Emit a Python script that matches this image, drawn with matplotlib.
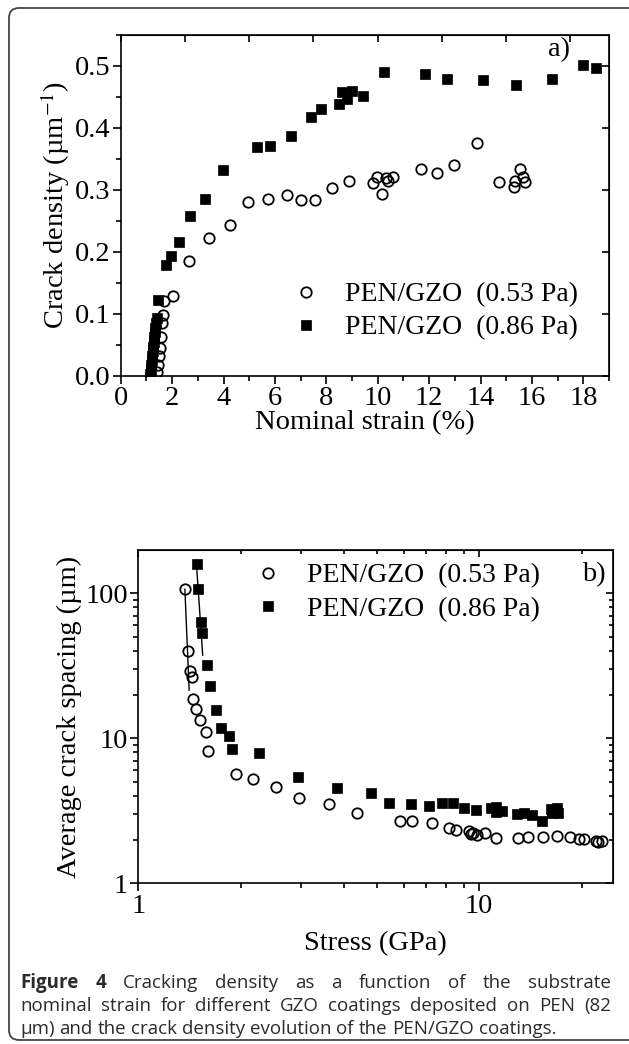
import matplotlib
matplotlib.use('Agg')
import matplotlib.pyplot as plt
from matplotlib.patches import FancyBboxPatch
from matplotlib.transforms import IdentityTransform
from matplotlib.ticker import MultipleLocator, LogLocator, NullFormatter, FixedLocator, FixedFormatter

W, H, DPI = 629, 1044, 100

# ---------------- Panel a data ----------------
strain_053 = [1.42, 1.46, 1.50, 1.53, 1.55, 1.60, 1.65, 1.69, 2.04, 2.65, 3.44, 4.27, 4.96,
              5.72, 6.46, 7.03, 7.57, 8.22, 8.90, 9.81, 9.97, 10.15, 10.34, 10.41, 10.59,
              11.70, 12.30, 12.97, 13.86, 14.72, 15.30, 15.35, 15.53, 15.64, 15.74]
density_053 = [0.006, 0.017, 0.031, 0.044, 0.063, 0.085, 0.098, 0.120, 0.128, 0.185, 0.222,
               0.243, 0.280, 0.285, 0.291, 0.283, 0.284, 0.303, 0.315, 0.311, 0.321, 0.294,
               0.319, 0.315, 0.320, 0.333, 0.328, 0.340, 0.375, 0.313, 0.304, 0.315, 0.334,
               0.320, 0.312]
strain_086 = [1.15, 1.17, 1.19, 1.21, 1.23, 1.25, 1.27, 1.29, 1.31, 1.33, 1.35, 1.37, 1.40,
              1.44, 1.75, 1.94, 2.28, 2.69, 3.27, 3.99, 5.32, 5.79, 6.61, 7.40, 7.79, 8.48,
              8.61, 8.80, 8.99, 9.42, 10.24, 11.84, 12.68, 14.08, 15.39, 16.78, 17.97, 18.51]
density_086 = [0.003, 0.010, 0.017, 0.025, 0.032, 0.040, 0.047, 0.055, 0.062, 0.070, 0.077,
               0.085, 0.093, 0.122, 0.178, 0.193, 0.216, 0.258, 0.285, 0.332, 0.369, 0.371,
               0.387, 0.417, 0.431, 0.438, 0.458, 0.446, 0.460, 0.452, 0.490, 0.487, 0.479,
               0.478, 0.470, 0.479, 0.502, 0.497]

# ---------------- Panel b data ----------------
stress_053 = [1.37, 1.396, 1.42, 1.437, 1.45, 1.473, 1.52, 1.583, 1.60, 1.93, 2.17, 2.53, 2.97,
              3.62, 4.39, 5.85, 6.36, 7.28, 8.15, 8.58, 9.31, 9.44, 9.6, 9.87, 10.4, 11.24,
              13.0, 13.9, 15.4, 16.9, 18.5, 19.6, 20.3, 22.0, 22.3, 23.0]
spacing_053 = [106.6, 40, 29.1, 26.6, 18.8, 15.9, 13.3, 11.0, 8.2, 5.67, 5.21, 4.63, 3.89,
               3.52, 3.04, 2.70, 2.70, 2.59, 2.39, 2.33, 2.31, 2.18, 2.22, 2.15, 2.21, 2.04,
               2.06, 2.09, 2.09, 2.13, 2.08, 2.01, 2.03, 1.96, 1.93, 1.97]
stress_086 = [1.489, 1.50, 1.524, 1.541, 1.594, 1.626, 1.686, 1.748, 1.84, 1.88, 2.26, 2.94,
              3.82, 4.80, 5.45, 6.31, 7.12, 7.76, 8.36, 9.04, 9.78, 10.87, 11.19, 11.19, 11.63,
              12.88, 13.52, 14.3, 15.24, 16.3, 16.4, 16.9, 17.05]
spacing_086 = [159, 106.6, 63.7, 53, 31.9, 22.8, 15.8, 11.7, 10.3, 8.4, 7.96, 5.43, 4.52, 4.18,
               3.60, 3.51, 3.43, 3.56, 3.56, 3.32, 3.19, 3.29, 3.38, 3.12, 3.15, 3.0, 3.04,
               2.94, 2.69, 3.24, 3.07, 3.32, 3.07]
fit_053_x = [1.37, 1.41]
fit_053_y = [106.6, 21.5]
fit_086_x = [1.483, 1.545]
fit_086_y = [152, 37.5]

label_053 = 'PEN/GZO  (0.53 Pa)'
label_086 = 'PEN/GZO  (0.86 Pa)'
xticks_a = [0, 2, 4, 6, 8, 10, 12, 14, 16, 18]
yticks_a = [0.0, 0.1, 0.2, 0.3, 0.4, 0.5]

caption_lines = [
    [("Figure", 'bold'), ("4", 'bold'), ("Cracking", 'normal'), ("density", 'normal'), ("as", 'normal'),
     ("a", 'normal'), ("function", 'normal'), ("of", 'normal'), ("the", 'normal'), ("substrate", 'normal')],
    [(w, 'normal') for w in "nominal strain for different GZO coatings deposited on PEN (82".split()],
    [(w, 'normal') for w in "µm) and the crack density evolution of the PEN/GZO coatings.".split()],
]

plt.rcParams['font.family'] = ['Liberation Serif', 'DejaVu Serif']
plt.rcParams['mathtext.fontset'] = 'stix'

fig = plt.figure(figsize=(W / DPI, H / DPI), dpi=DPI)
FS = 20.5
LW = 1.2

def px_ax(left, right, top, bottom):
    return fig.add_axes([left / W, 1 - bottom / H, (right - left) / W, (bottom - top) / H])

def style_axes(ax):
    for s in ax.spines.values():
        s.set_linewidth(LW)
    ax.tick_params(which='both', direction='out', width=LW, labelsize=FS, pad=1.5,
                   top=False, right=False)
    ax.tick_params(which='major', length=6)
    ax.tick_params(which='minor', length=3.5)

def inner_ticks(ax):
    for sec in (ax.secondary_xaxis('top'), ax.secondary_yaxis('right')):
        sec.tick_params(which='both', direction='in', width=LW, labelleft=False, labelright=False,
                        labeltop=False, labelbottom=False)
        sec.tick_params(which='major', length=5)
        sec.tick_params(which='minor', length=3)

mk_open = dict(linestyle='none', marker='o', ms=7.5, mfc='none', mec='black', mew=1.3)
mk_sq = dict(linestyle='none', marker='s', ms=7.5, mfc='black', mec='black', mew=0.5)

# ---------------- Panel a ----------------
ax1 = px_ax(120.7, 609, 35, 375.7)
ax1.plot(strain_053, density_053, label=label_053, **mk_open)
ax1.plot(strain_086, density_086, label=label_086, **mk_sq)
ax1.set_xlim(0, 19)
ax1.set_ylim(0, 0.55)
ax1.xaxis.set_major_locator(FixedLocator(xticks_a))
ax1.yaxis.set_major_locator(FixedLocator(yticks_a))
ax1.xaxis.set_minor_locator(MultipleLocator(1))
ax1.yaxis.set_minor_locator(MultipleLocator(0.05))
ax1.yaxis.set_major_formatter(FixedFormatter([f'{v:.1f}' for v in yticks_a]))
style_axes(ax1)
inner_ticks(ax1)
ax1.set_xlabel('Nominal strain (%)', fontsize=FS, labelpad=-1)
ax1.set_ylabel('Crack density (µm$^{-1}$)', fontsize=FS, labelpad=2)
ax1.legend(loc='upper left', bbox_to_anchor=(0.356, 0.2755), frameon=False, fontsize=FS - 0.5,
           handlelength=0.8, handletextpad=1.0, labelspacing=0.27, borderpad=0, borderaxespad=0)
ax1.text(0.92, 0.995, 'a)', transform=ax1.transAxes, fontsize=FS, ha='right', va='top')

# ---------------- Panel b ----------------
ax2 = px_ax(138.3, 613, 550, 883.3)
ax2.set_xscale('log')
ax2.set_yscale('log')
ax2.plot(fit_053_x, fit_053_y, color='black', lw=1.0)
ax2.plot(fit_086_x, fit_086_y, color='black', lw=1.0)
ax2.plot(stress_053, spacing_053, label=label_053, **mk_open)
ax2.plot(stress_086, spacing_086, label=label_086, **mk_sq)
ax2.set_xlim(1, 24.7)
ax2.set_ylim(1, 199)
ax2.xaxis.set_major_locator(FixedLocator([1, 10]))
ax2.xaxis.set_major_formatter(FixedFormatter(['1', '10']))
ax2.yaxis.set_major_locator(FixedLocator([1, 10, 100]))
ax2.yaxis.set_major_formatter(FixedFormatter(['1', '10', '100']))
ax2.xaxis.set_minor_locator(LogLocator(base=10, subs=range(2, 10)))
ax2.yaxis.set_minor_locator(LogLocator(base=10, subs=range(2, 10)))
ax2.xaxis.set_minor_formatter(NullFormatter())
ax2.yaxis.set_minor_formatter(NullFormatter())
style_axes(ax2)
inner_ticks(ax2)
ax2.set_xlabel('Stress (GPa)', fontsize=FS, labelpad=9)
ax2.set_ylabel('Average crack spacing (µm)', fontsize=FS, labelpad=2)
ax2.legend(loc='upper left', bbox_to_anchor=(0.2505, 0.961), frameon=False, fontsize=FS - 0.5,
           handlelength=0.8, handletextpad=1.0, labelspacing=0.3, borderpad=0, borderaxespad=0)
ax2.text(0.985, 0.925, 'b)', transform=ax2.transAxes, fontsize=FS, ha='right', va='center')

# ---------------- Frame (right side runs off the image) ----------------
frame = FancyBboxPatch((9, 4), 640, H - 12, boxstyle='round,pad=0,rounding_size=10',
                       transform=IdentityTransform(), fill=False, ec='#444444', lw=1.3)
fig.patches.append(frame)

# ---------------- Caption (justified) ----------------
renderer = fig.canvas.get_renderer()
cap_x0, cap_x1 = 20, 611
baselines = [988, 1011, 1034]
cap_fs = 13.5
cap_family = ['Open Sans', 'DejaVu Sans']
for li, (words, yb) in enumerate(zip(caption_lines, baselines)):
    objs = []
    for w, wt in words:
        t = fig.text(0, H - yb, w, transform=IdentityTransform(), fontsize=cap_fs,
                     family=cap_family, weight=wt, color='#2b2b2b', va='baseline')
        objs.append(t)
    widths = [t.get_window_extent(renderer).width for t in objs]
    sp = fig.text(0, 0, 'a a', fontsize=cap_fs, family=cap_family)
    sp2 = fig.text(0, 0, 'aa', fontsize=cap_fs, family=cap_family)
    natural_gap = sp.get_window_extent(renderer).width - sp2.get_window_extent(renderer).width
    sp.remove(); sp2.remove()
    if li < len(caption_lines) - 1:
        gap = (cap_x1 - cap_x0 - sum(widths)) / (len(objs) - 1)
    else:
        gap = natural_gap
    x = cap_x0
    for t, wdt in zip(objs, widths):
        t.set_x(x)
        x += wdt + gap

fig.savefig('out.png', dpi=DPI)
